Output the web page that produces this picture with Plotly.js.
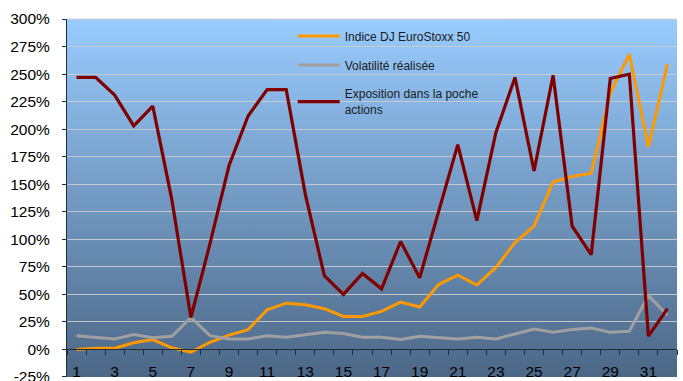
<!DOCTYPE html>
<html>
<head>
<meta charset="utf-8">
<script src="https://cdn.plot.ly/plotly-3.0.1.min.js"></script>
<style>
html,body{margin:0;padding:0;background:#fff;}
#chart{width:683px;height:381px;}
</style>
</head>
<body>
<div id="chart"></div>
<script>
// Data
var periods = [1,2,3,4,5,6,7,8,9,10,11,12,13,14,15,16,17,18,19,20,21,22,23,24,25,26,27,28,29,30,31,32];
var xTickVals = [1,3,5,7,9,11,13,15,17,19,21,23,25,27,29,31];
var xTickText = ["1","3","5","7","9","11","13","15","17","19","21","23","25","27","29","31"];
var yTickVals = [-25,0,25,50,75,100,125,150,175,200,225,250,275,300];
var yTickText = ["-25%","0%","25%","50%","75%","100%","125%","150%","175%","200%","225%","250%","275%","300%"];

var seriesNames = ["Indice DJ EuroStoxx 50", "Volatilité réalisée", "Exposition dans la poche<br>actions"];
var indiceDJ = [0, 1, 1, 6, 9, 1.5, -2.5, 6.5, 13, 18, 36, 42, 40.5, 37, 30, 30, 34.5, 43, 38.5, 59, 67.5, 58.5, 74.5, 97, 112, 152, 157, 160, 233, 268, 184, 259];
var volatilite = [12.5, 11, 9.5, 13.5, 10.5, 12, 29, 12.5, 9.5, 9.5, 12.5, 11, 13.5, 15.5, 14.5, 11, 11, 9, 12, 11, 9.5, 11, 9.5, 14, 18.5, 15.5, 18, 19.5, 15.5, 16.5, 49, 31];
var exposition = [247, 247, 231, 203, 221, 136, 29, 96, 167, 212, 236, 236, 141, 67, 50, 69, 55, 98, 65, 125, 186, 117, 197, 247, 162, 249, 112, 86, 246, 250, 12, 37];

var colors = ["#FF9900", "#A0A0A0", "#800000"];

// gradient colours (top -> bottom of plot area)
var topC = [153, 204, 255], botC = [76, 103, 134];
function mix(t){
  var c = topC.map(function(v,i){ return Math.round(v + (botC[i]-v)*t); });
  return "rgb(" + c.join(",") + ")";
}
var svg = "<svg xmlns='http://www.w3.org/2000/svg' width='10' height='100' preserveAspectRatio='none'>" +
  "<defs><linearGradient id='g' x1='0' y1='0' x2='0' y2='1'>" +
  "<stop offset='0' stop-color='" + mix(0) + "'/><stop offset='1' stop-color='" + mix(1) + "'/>" +
  "</linearGradient></defs><rect width='10' height='100' fill='url(#g)'/></svg>";
var gradSrc = "data:image/svg+xml;charset=utf-8," + encodeURIComponent(svg);

// strips hiding gridlines behind the legend (between gridlines and traces)
var shapes = [];
var plotTop = 19, plotBot = 377, plotH = plotBot - plotTop;
var legX0 = 0.347, legX1 = 0.716;
for (var py = 22; py < 122; py += 2) {
  var t = (py + 1 - plotTop) / plotH;
  shapes.push({
    type: "rect", xref: "paper", yref: "paper", layer: "between",
    x0: legX0, x1: legX1,
    y0: (plotBot - py - 2) / plotH, y1: (plotBot - py) / plotH,
    fillcolor: mix(t), line: {width: 0}
  });
}
// faint top border of the plot area
shapes.push({type: "line", xref: "paper", yref: "paper", x0: 0, x1: 1, y0: 1, y1: 1,
  line: {color: "#d8cfd2", width: 1}, layer: "above"});

var font = "Liberation Sans, Arial, sans-serif";
var traces = [indiceDJ, volatilite, exposition].map(function(vals, i){
  return {
    x: periods, y: vals, type: "scatter", mode: "lines",
    name: seriesNames[i], legendgroup: "g" + i,
    line: {color: colors[i], width: i === 2 ? 3.2 : 3}
  };
});

var layout = {
  width: 683, height: 381,
  margin: {l: 67, r: 6, t: 19, b: 4},
  paper_bgcolor: "#ffffff",
  plot_bgcolor: "rgba(0,0,0,0)",
  font: {family: font, color: "#000", size: 15},
  showlegend: true,
  legend: {
    x: 0.37, y: 0.993, xanchor: "left", yanchor: "top",
    bgcolor: "rgba(0,0,0,0)", borderwidth: 0,
    font: {family: font, size: 12, color: "#1a1a1a"},
    tracegroupgap: 10, itemwidth: 42
  },
  xaxis: {
    type: "linear", range: [0.5, 32.5],
    anchor: "free", position: 25/325,
    showgrid: false, zeroline: false,
    showline: true, linecolor: "#1e2d3d", linewidth: 1,
    tickmode: "array", tickvals: xTickVals, ticktext: xTickText,
    ticks: "", ticklabelstandoff: 8,
    tickfont: {family: font, size: 15.5, color: "#000"},
    minor: {tickmode: "array", tickvals: periods.map(function(p){return p - 0.5;}).concat([32.5]),
            ticks: "outside", ticklen: 5, tickcolor: "#1e2d3d", showgrid: false}
  },
  yaxis: {
    range: [-25.05, 300.05],
    tickmode: "array", tickvals: yTickVals, ticktext: yTickText,
    ticklabeloverflow: "allow",
    showgrid: true, gridcolor: "rgba(205,205,205,0.9)", gridwidth: 1,
    zeroline: false,
    showline: true, linecolor: "#1e2d3d", linewidth: 1,
    ticks: "outside", ticklen: 4, tickcolor: "#1e2d3d",
    ticklabelstandoff: 9,
    tickfont: {family: font, size: 15.5, color: "#000"}
  },
  images: [{
    source: gradSrc, xref: "paper", yref: "paper",
    x: 0, y: 1, sizex: 1, sizey: 1, xanchor: "left", yanchor: "top",
    sizing: "stretch", layer: "below"
  }],
  shapes: shapes
};

Plotly.newPlot("chart", traces, layout, {displayModeBar: false, staticPlot: true});
</script>
</body>
</html>
